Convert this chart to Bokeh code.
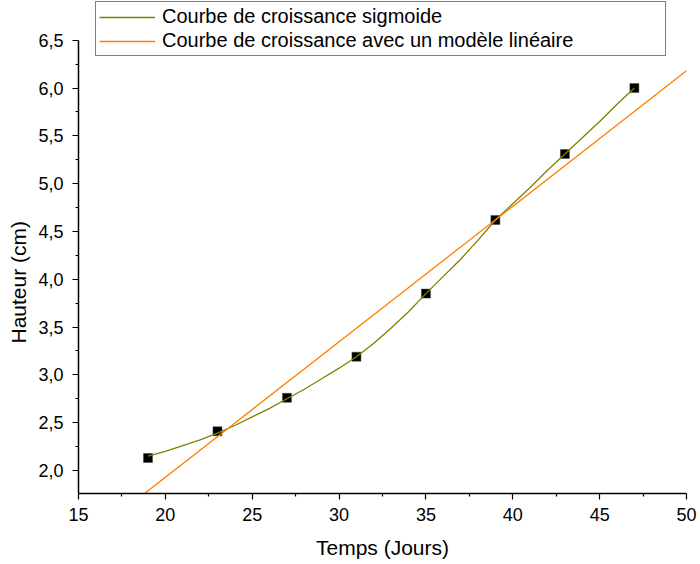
from bokeh.plotting import figure
from bokeh.models import (Range1d, FixedTicker, CustomJSTickFormatter, Legend,
                          LegendItem, ColumnDataSource, Title)
from bokeh.embed import file_html
from bokeh.resources import INLINE

# measured heights (points)
days = [19, 23, 27, 31, 35, 39, 43, 47]
heights = [2.13, 2.41, 2.76, 3.19, 3.85, 4.62, 5.31, 6.00]

# sigmoid growth curve
sig_x = [19, 20, 21, 22, 23, 24, 25, 26, 27, 28, 29, 30, 31, 32, 33,
         34, 35, 36, 37, 38, 39, 40, 41, 42, 43, 44, 45, 46, 47]
sig_y = [2.15, 2.20, 2.26, 2.32, 2.39, 2.47, 2.56, 2.65, 2.75, 2.85, 2.96, 3.07, 3.19, 3.33, 3.49,
         3.66, 3.85, 4.03, 4.21, 4.41, 4.62, 4.79, 4.96, 5.14, 5.31, 5.48, 5.65, 5.83, 6.00]

# linear model line
lin_x = [15, 50]
lin_y = [1.22, 6.18]

x_ticks = [15, 20, 25, 30, 35, 40, 45, 50]
x_minor = [17.5, 22.5, 27.5, 32.5, 37.5, 42.5, 47.5]
y_ticks = [2.0, 2.5, 3.0, 3.5, 4.0, 4.5, 5.0, 5.5, 6.0, 6.5]
y_minor = [2.25, 2.75, 3.25, 3.75, 4.25, 4.75, 5.25, 5.75, 6.25]

FONT = "Liberation Sans"

p = figure(width=700, height=564,
           min_border_left=77, min_border_right=14,
           min_border_top=0, min_border_bottom=71,
           x_range=Range1d(15, 50), y_range=Range1d(1.759, 6.916),
           output_backend="svg", toolbar_location=None)
p.outline_line_color = None
p.grid.visible = False
p.background_fill_color = "white"
p.border_fill_color = "white"

pts = ColumnDataSource(dict(x=days, y=heights))
sig = ColumnDataSource(dict(x=sig_x, y=sig_y))
lin = ColumnDataSource(dict(x=lin_x, y=lin_y))

p.scatter("x", "y", source=pts, marker="square", size=9,
          fill_color="black", line_color="#444444", line_width=0.5)
r_sig = p.line("x", "y", source=sig, line_color="#808000", line_width=1.3)
r_lin = p.line("x", "y", source=lin, line_color="#FF8000", line_width=1.3)

for ax in (p.xaxis[0], p.yaxis[0]):
    ax.axis_line_color = "black"
    ax.axis_line_width = 1.5
    ax.major_tick_line_color = "black"
    ax.minor_tick_line_color = "black"
    ax.major_tick_line_width = 1.2
    ax.minor_tick_line_width = 1.2
    ax.major_tick_in = 0
    ax.major_tick_out = 6
    ax.minor_tick_in = 0
    ax.minor_tick_out = 3
    ax.major_label_text_font = FONT
    ax.major_label_text_font_size = "18px"
    ax.major_label_text_color = "black"
    ax.axis_label_text_font = FONT
    ax.axis_label_text_font_size = "21px"
    ax.axis_label_text_font_style = "normal"
    ax.axis_label_text_color = "black"

p.xaxis[0].ticker = FixedTicker(ticks=x_ticks, minor_ticks=x_minor)
p.yaxis[0].ticker = FixedTicker(ticks=y_ticks, minor_ticks=y_minor)
p.yaxis[0].bounds = (1.759, 6.5)
p.yaxis[0].formatter = CustomJSTickFormatter(code="return tick.toFixed(1).replace('.', ',');")
p.xaxis[0].axis_label = "Temps (Jours)"
p.xaxis[0].major_label_standoff = 8
p.yaxis[0].major_label_standoff = 9
p.xaxis[0].axis_label_standoff = 12

# y axis label as a side title so it can sit where the reference puts it
ytitle = Title(text="Hauteur (cm)", align="left", offset=150,
               vertical_align="middle", standoff=10,
               text_font=FONT, text_font_size="21px",
               text_font_style="normal", text_color="black")
p.add_layout(ytitle, "left")

legend = Legend(items=[
    LegendItem(label="Courbe de croissance sigmoide", renderers=[r_sig]),
    LegendItem(label="Courbe de croissance avec un modèle linéaire", renderers=[r_lin]),
], location=(17, 437))
legend.border_line_color = "black"
legend.border_line_width = 1
legend.background_fill_color = "white"
legend.background_fill_alpha = 1
legend.label_text_font = FONT
legend.label_text_font_size = "20px"
legend.label_text_color = "black"
legend.padding = 3
legend.spacing = 1
legend.margin = 0
legend.glyph_width = 56
legend.glyph_height = 22
legend.label_height = 22
legend.label_width = 500
legend.label_standoff = 7
p.add_layout(legend)

open("out.html", "w").write(file_html(p, INLINE))
